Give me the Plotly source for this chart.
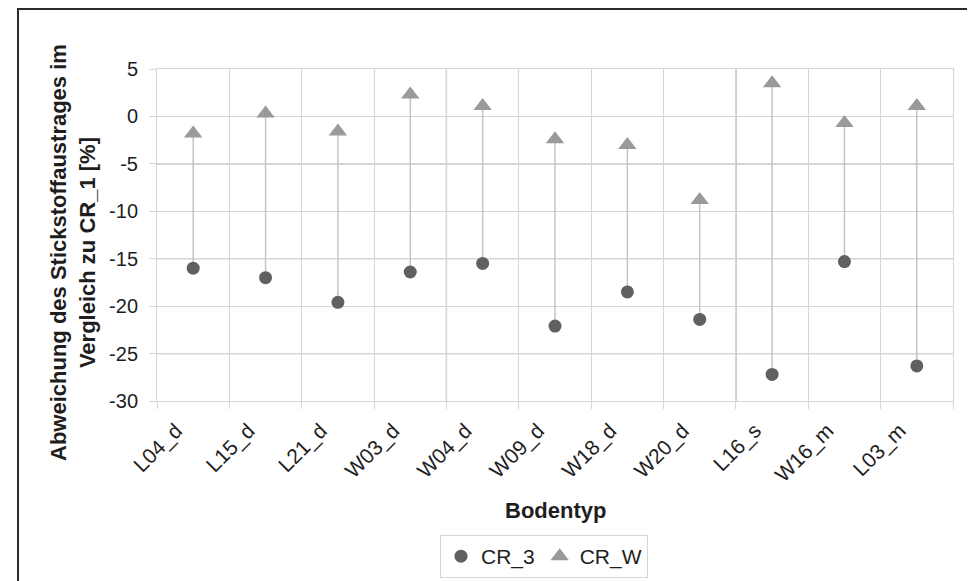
import plotly.graph_objects as go

categories = ["L04_d", "L15_d", "L21_d", "W03_d", "W04_d", "W09_d",
              "W18_d", "W20_d", "L16_s", "W16_m", "L03_m"]
cr_3 = [-16.0, -17.0, -19.6, -16.4, -15.5, -22.1, -18.5, -21.4, -27.2, -15.3, -26.3]
cr_w = [-1.8, 0.3, -1.6, 2.3, 1.1, -2.4, -3.0, -8.8, 3.5, -0.7, 1.1]
y_ticks = [-30, -25, -20, -15, -10, -5, 0, 5]
y_tick_labels = ["-30", "-25", "-20", "-15", "-10", "-5", "0", "5"]
y_dark_grid = [-25, -15, -5]
x_dark_bounds = [3.5, 7.5]

FONT = "Liberation Sans, Arial, sans-serif"
TXT = "#1e1e1e"
LIGHT = "#d6d6d6"
DARK = "#a8a8a8"

# figure placed with the 8px page margin in mind
W, H = 967, 573
L, R, T, B = 149, 22, 61, 180
PW, PH = W - L - R, H - T - B

pos = list(range(len(categories)))

lx, ly = [], []
for i in pos:
    lx += [i, i, None]
    ly += [cr_3[i], cr_w[i], None]

fig = go.Figure()
fig.add_trace(go.Scatter(x=lx, y=ly, mode="lines",
                         line=dict(color="#c4c4c4", width=1.5),
                         showlegend=False, hoverinfo="skip"))
fig.add_trace(go.Scatter(x=pos, y=cr_3, mode="markers", name="CR_3",
                         marker=dict(symbol="circle", size=13, color="#606060")))
fig.add_trace(go.Scatter(x=pos, y=cr_w, mode="markers", name="CR_W",
                         marker=dict(symbol="triangle-up", size=16, color="#9a9a9a")))

shapes = []
for v in y_dark_grid:
    shapes.append(dict(type="line", xref="paper", yref="y", x0=0, x1=1, y0=v, y1=v,
                       line=dict(color=DARK, width=1.3), layer="below"))
for b in x_dark_bounds:
    shapes.append(dict(type="line", xref="x", yref="paper", x0=b, x1=b, y0=0, y1=1,
                       line=dict(color=DARK, width=1.3), layer="below"))
shapes.append(dict(type="rect", xref="paper", yref="paper",
                   x0=(10 - L) / PW, x1=(962 - L) / PW,
                   y0=(T + PH - 620) / PH, y1=(T + PH - 1) / PH,
                   line=dict(color="#2a2a2a", width=2), fillcolor="rgba(0,0,0,0)"))

fig.update_layout(
    width=W, height=H,
    margin=dict(l=L, r=R, t=T, b=B),
    paper_bgcolor="white", plot_bgcolor="white",
    font=dict(family=FONT, size=21, color=TXT),
    shapes=shapes,
    showlegend=True,
    legend=dict(orientation="h", xref="container", yref="container",
                x=536 / W, y=1 - 527 / H, xanchor="center", yanchor="top",
                bordercolor=LIGHT, borderwidth=1, font=dict(size=21, color=TXT),
                itemwidth=30, tracegroupgap=0),
    annotations=[
        dict(text="<b>Abweichung des Stickstoffaustrages im<br>Vergleich zu CR_1 [%]</b>",
             xref="paper", yref="paper", x=(65 - L) / PW, y=(T + PH - 245) / PH,
             xanchor="center", yanchor="middle", textangle=-90, showarrow=False,
             font=dict(size=22, color=TXT, family=FONT)),
        dict(text="<b>Bodentyp</b>", xref="paper", yref="paper",
             x=0.5, y=(T + PH - 502) / PH, xanchor="center", yanchor="middle",
             showarrow=False, font=dict(size=22, color=TXT, family=FONT)),
    ],
)
fig.update_xaxes(range=[-0.5, len(categories) - 0.5], tickmode="array",
                 tickvals=pos, ticktext=categories, tickangle=-45, ticks="",
                 showgrid=False, zeroline=False,
                 showline=True, mirror=True, linecolor=LIGHT, linewidth=1,
                 tickfont=dict(size=21, color=TXT),
                 ticklabelshift=-17, ticklabelstandoff=8,
                 minor=dict(tick0=-0.5, dtick=1, ticks="outside", ticklen=7,
                            tickcolor=LIGHT, showgrid=True, gridcolor=LIGHT, gridwidth=1))
fig.update_yaxes(range=[-30, 5], tickmode="array", tickvals=y_ticks,
                 ticktext=y_tick_labels,
                 ticks="outside", ticklen=7, tickcolor=LIGHT,
                 showgrid=True, gridcolor=LIGHT, gridwidth=1, zeroline=False,
                 showline=True, mirror=True, linecolor=LIGHT, linewidth=1,
                 ticklabelstandoff=7,
                 tickfont=dict(size=20, color=TXT))

fig.write_html("out.html")
